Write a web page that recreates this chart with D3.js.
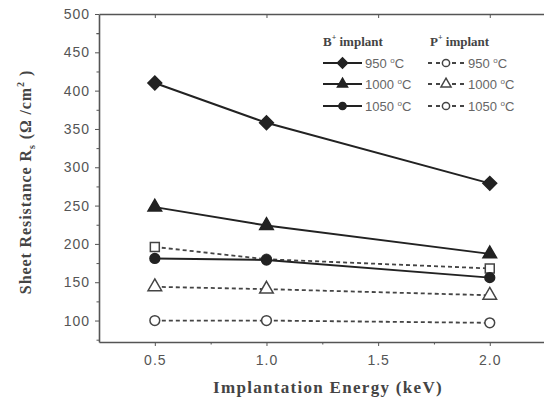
<!DOCTYPE html>
<html>
<head>
<meta charset="utf-8">
<script src="https://cdn.jsdelivr.net/npm/d3@7"></script>
<style>
  body { margin: 0; background: #fff; }
  svg { display: block; }
  .tick text { font-family: "Liberation Sans", Arial, sans-serif; font-size: 14px; fill: #555; letter-spacing: 1px; }
  .axis path, .axis line { stroke: #555; }
  .title { font-family: "Liberation Serif", "Times New Roman", serif; font-weight: bold; fill: #444; }
  .leg { font-family: "Liberation Sans", Arial, sans-serif; font-size: 13px; fill: #666; }
</style>
</head>
<body>
<script>
// data
var energy = [0.5, 1.0, 2.0];
var bTemps = ["950", "1000", "1050"];
var b950  = [410, 358, 279];
var b1000 = [248, 224, 187];
var b1050 = [181, 179, 156];
var p950  = [196, 180, 168];
var p1000 = [144, 141, 133];
var p1050 = [100, 100, 97];
var yTicks = [100, 150, 200, 250, 300, 350, 400, 450, 500];
var xTicks = [0.5, 1.0, 1.5, 2.0];

var series = [
  { name: "950",  values: b950,  kind: "B", sym: ["diamond", "diamond", "diamond"] },
  { name: "1000", values: b1000, kind: "B", sym: ["triangle", "triangle", "triangle"] },
  { name: "1050", values: b1050, kind: "B", sym: ["circle", "circle", "circle"] },
  { name: "950",  values: p950,  kind: "P", sym: ["square", "circle", "square"] },
  { name: "1000", values: p1000, kind: "P", sym: ["triangle", "triangle", "triangle"] },
  { name: "1050", values: p1050, kind: "P", sym: ["circle", "circle", "circle"] }];

var W = 544, H = 403;
var svg = d3.select("body").append("svg").attr("width", W).attr("height", H);

var x = d3.scaleLinear().domain([0.25, 2.25]).range([99, 545.6]);
var y = d3.scaleLinear().domain([72, 500]).range([342, 14]);

// minor ticks
svg.append("g").attr("class", "axis").attr("transform", "translate(99,0)")
  .call(d3.axisLeft(y).tickValues(yTicks.map(function(t) { return t - 25; }).concat([475])).tickSize(2.5).tickFormat(""))
  .select(".domain").remove();
svg.append("g").attr("class", "axis").attr("transform", "translate(0,342)")
  .call(d3.axisBottom(x).tickValues([0.75, 1.25, 1.75, 2.25]).tickSize(2.5).tickFormat(""))
  .select(".domain").remove();

// major axes
var yAxis = svg.append("g").attr("class", "axis").attr("transform", "translate(99,0)")
  .call(d3.axisLeft(y).tickValues(yTicks).tickSize(4).tickSizeOuter(0).tickPadding(5));
var xAxis = svg.append("g").attr("class", "axis").attr("transform", "translate(0,342)")
  .call(d3.axisBottom(x).tickValues(xTicks).tickSize(4).tickSizeOuter(0).tickPadding(6)
    .tickFormat(d3.format(".1f")));
svg.append("g").attr("class", "axis").attr("transform", "translate(0,14)")
  .call(d3.axisTop(x).tickValues(xTicks).tickSize(-4).tickSizeOuter(0).tickFormat(""));
svg.selectAll(".axis .domain").attr("stroke-width", 1.6);
xAxis.selectAll(".tick text").attr("dy", "0.9em");

// titles
svg.append("text").attr("class", "title")
  .attr("x", 328).attr("y", 393).attr("text-anchor", "middle")
  .attr("font-size", 17).attr("letter-spacing", 1.3)
  .text("Implantation Energy (keV)");

var yt = svg.append("text").attr("class", "title")
  .attr("transform", "translate(31,182) rotate(-90)")
  .attr("text-anchor", "middle").attr("font-size", 16).attr("letter-spacing", 0.9);
yt.append("tspan").text("Sheet Resistance R");
yt.append("tspan").attr("font-size", 10).attr("dy", 4).text("s");
yt.append("tspan").attr("dy", -4).text(" (\u03A9 /cm");
yt.append("tspan").attr("font-size", 10).attr("dy", -7).text("2");
yt.append("tspan").attr("dy", 7).text(" )");

// marker drawing
var symMap = { diamond: d3.symbolSquare, triangle: d3.symbolTriangle, circle: d3.symbolCircle, square: d3.symbolSquare };
var symSize = { diamond: 95, triangle: 80, circle: 75, square: 80 };
function marker(g, kind, filled, cx, cy, k) {
  g.append("path")
    .attr("d", d3.symbol().type(symMap[kind]).size(symSize[kind] * (k || 1))())
    .attr("transform", "translate(" + cx + "," + cy + ")" + (kind === "diamond" ? " rotate(45)" : ""))
    .attr("fill", filled ? "#222" : "#fff")
    .attr("stroke", filled ? "#222" : "#444")
    .attr("stroke-width", 1.5); }

var line = d3.line().x(function(d) { return x(d[0]); }).y(function(d) { return y(d[1]); });

// P series first (dashed), then B on top
series.slice().reverse().forEach(function(s) {
  var pts = energy.map(function(e, i) { return [e, s.values[i]]; });
  var g = svg.append("g");
  g.append("path").attr("d", line(pts)).attr("fill", "none")
    .attr("stroke", s.kind === "B" ? "#222" : "#444")
    .attr("stroke-width", s.kind === "B" ? 2 : 1.8)
    .attr("stroke-dasharray", s.kind === "B" ? null : "4,3");
  pts.forEach(function(p, i) { marker(g, s.sym[i], s.kind === "B", x(p[0]), y(p[1])); });
});

// legend
var leg = svg.append("g");
var h1 = leg.append("text").attr("class", "title").attr("x", 323).attr("y", 46).attr("font-size", 13);
h1.append("tspan").text("B");
h1.append("tspan").attr("font-size", 8).attr("dy", -6).text("+");
h1.append("tspan").attr("dy", 6).text(" implant");
var h2 = leg.append("text").attr("class", "title").attr("x", 430).attr("y", 46).attr("font-size", 13);
h2.append("tspan").text("P");
h2.append("tspan").attr("font-size", 8).attr("dy", -6).text("+");
h2.append("tspan").attr("dy", 6).text(" implant");

var legSym = { B: ["diamond", "triangle", "circle"], P: ["circle", "triangle", "circle"] };
var rowY = [63, 84, 106];
["B", "P"].forEach(function(k, col) {
  var x0 = col === 0 ? 323 : 428;
  var x1 = col === 0 ? 362 : 464;
  var tx = col === 0 ? 365 : 468;
  bTemps.forEach(function(t, i) {
    var g = leg.append("g");
    g.append("line").attr("x1", x0).attr("x2", x1).attr("y1", rowY[i]).attr("y2", rowY[i])
      .attr("stroke", k === "B" ? "#222" : "#444").attr("stroke-width", k === "B" ? 2 : 1.8)
      .attr("stroke-dasharray", k === "B" ? null : "4,4");
    marker(g, legSym[k][i], k === "B", (x0 + x1) / 2, rowY[i], 0.55);
    var tt = g.append("text").attr("class", "leg").attr("x", tx).attr("y", rowY[i] + 5);
    tt.append("tspan").text(t + " ");
    tt.append("tspan").attr("font-size", 8).attr("dy", -5).text("o");
    tt.append("tspan").attr("dy", 5).text("C");
  });
});
</script>
</body>
</html>
